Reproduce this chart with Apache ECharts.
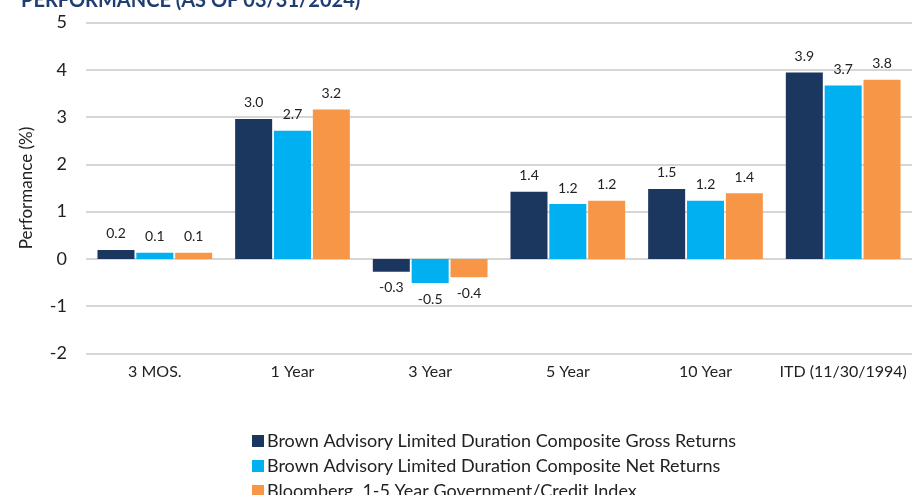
<!DOCTYPE html>
<html>
<head>
<meta charset="utf-8">
<script src="https://cdn.jsdelivr.net/npm/echarts@6/dist/echarts.min.js"></script>
<style>
  html, body { margin: 0; padding: 0; background: #fff; }
  #chart { width: 912px; height: 495px; }
</style>
</head>
<body>
<div id="chart"></div>
<script>
let categories = ['3 MOS.', '1 Year', '3 Year', '5 Year', '10 Year', 'ITD (11/30/1994)'];
let seriesNames = [
    'Brown Advisory Limited Duration Composite Gross Returns',
    'Brown Advisory Limited Duration Composite Net Returns',
    'Bloomberg  1-5 Year Government/Credit Index'
];
let grossReturns = [0.19, 2.96, -0.27, 1.42, 1.48, 3.94];
let netReturns = [0.13, 2.71, -0.51, 1.16, 1.23, 3.67];
let indexReturns = [0.13, 3.16, -0.39, 1.23, 1.39, 3.79];
let colors = ['#1b365f', '#00b0f0', '#f79646'];

let myChart = echarts.init(document.getElementById('chart'));
let font = 'Lato, "Open Sans", sans-serif';

function makeSeries(name, data, color) {
    return {
        name: name,
        type: 'bar',
        barWidth: 37,
        barGap: '5%',
        itemStyle: { color: color },
        label: {
            show: true,
            distance: 9,
            color: '#222',
            fontFamily: font,
            fontSize: 14,
            formatter: p => p.value.toFixed(1)
        },
        // negative values: label below the bar
        data: data.map(v => ({
            value: v,
            label: { position: v < 0 ? 'bottom' : 'top' }
        }))
    };
}

let option = {
    animation: false,
    color: colors,
    title: {
        text: 'PERFORMANCE (AS OF 03/31/2024)',
        left: 16,
        top: -14,
        textStyle: { color: '#1f3e73', fontFamily: font, fontSize: 20, fontWeight: 'bold' }
    },
    grid: { left: 86, right: -2, top: 22.5, bottom: 141.5 },
    legend: {
        orient: 'vertical',
        left: 247,
        top: 427,
        height: 90,
        itemWidth: 12,
        itemHeight: 12,
        itemGap: 7,
        icon: 'rect',
        textStyle: { color: '#222', fontFamily: font, fontSize: 18, padding: [0, 0, 0, -2] },
        data: seriesNames
    },
    xAxis: {
        type: 'category',
        data: categories,
        axisLine: { show: false },
        axisTick: { show: false },
        axisLabel: { interval: 0, color: '#222', fontFamily: font, fontSize: 16, margin: 10 }
    },
    yAxis: {
        type: 'value',
        min: -2,
        max: 5,
        interval: 1,
        name: 'Performance (%)',
        nameLocation: 'middle',
        nameGap: 51,
        nameTextStyle: { color: '#222', fontFamily: font, fontSize: 17 },
        axisLabel: { color: '#222', fontFamily: font, fontSize: 18, margin: 19 },
        splitLine: { lineStyle: { color: '#c8c8c8', width: 1.5 } }
    },
    series: [
        makeSeries(seriesNames[0], grossReturns, colors[0]),
        makeSeries(seriesNames[1], netReturns, colors[1]),
        makeSeries(seriesNames[2], indexReturns, colors[2])
    ]
};
myChart.setOption(option);
</script>
</body>
</html>
